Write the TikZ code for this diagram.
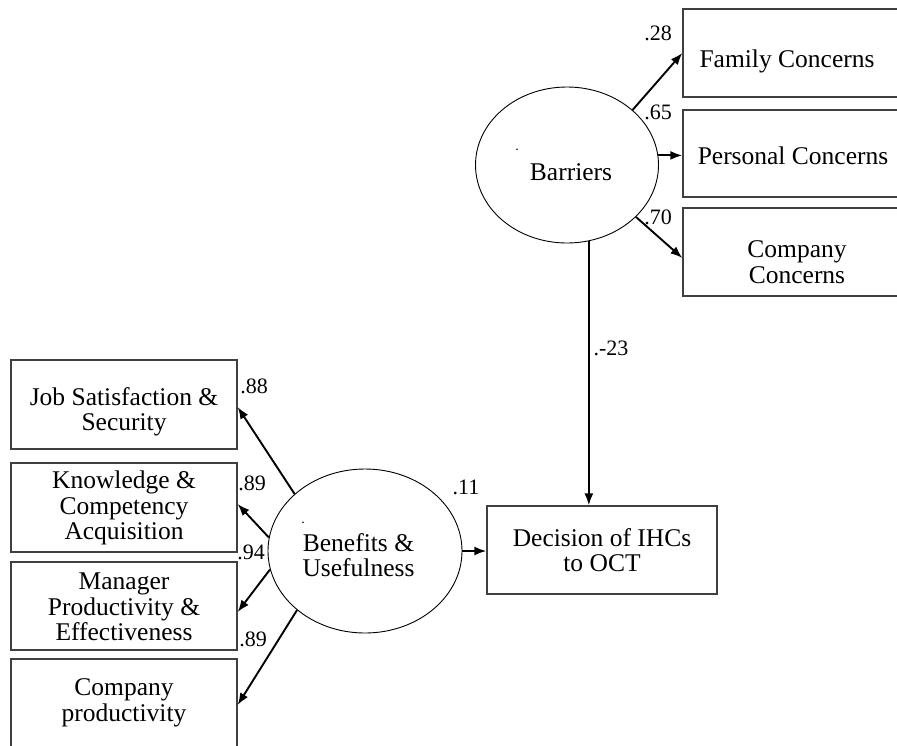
\documentclass[tikz,border=0pt]{standalone}
\usepackage{fontspec}
\setmainfont{Liberation Serif}
\usetikzlibrary{arrows.meta,shapes.geometric}
\begin{document}
\begin{tikzpicture}[x=1pt,y=-1pt,
 box/.style={draw=black!75,line width=1.3pt,inner sep=0pt,minimum height=88pt},
 lat/.style={draw,ellipse,line width=0.9pt,inner sep=0pt},
 txt/.style={font=\fontsize{25.5}{25.5}\selectfont,align=center,inner sep=0pt},
 coef/.style={font=\fontsize{22}{24}\selectfont,inner sep=0pt},
 pth/.style={line width=1.9pt,-{Latex[length=12pt,width=9pt]}},
 dotlbl/.style={font=\fontsize{14}{14}\selectfont,inner sep=0pt}
]
\useasboundingbox (0,0) rectangle (897,745);
\clip (0,0) rectangle (897,745);

% boxes
\node[box,minimum width=228pt] (fam) at (797,53) {};
\node[box,minimum width=228pt,minimum height=87pt] (per) at (797,153.5) {};
\node[box,minimum width=228pt] (com) at (797,252) {};
\node[box,minimum width=226pt,minimum height=89pt] (job) at (124,404.5) {};
\node[box,minimum width=226pt,minimum height=89pt] (kno) at (124,507.5) {};
\node[box,minimum width=226pt] (man) at (124,606) {};
\node[box,minimum width=226pt,minimum height=89pt] (cpr) at (124,703.5) {};
\node[box,minimum width=230pt] (dec) at (602,550) {};

% latent variables
\node[lat,minimum width=183pt,minimum height=156pt] (bar) at (567,165) {};
\node[lat,minimum width=194pt,minimum height=164pt] (ben) at (365,551) {};

% texts
\node[txt] (tfam) at (787,61) {Family Concerns};
\node[txt] (tper) at (793,156) {Personal Concerns};
\node[txt] (tcom) at (797,262) {Company\\Concerns};
\node[txt] (tjob) at (124,412) {Job Satisfaction \&\\Security};
\node[txt] (tkno) at (124,508) {Knowledge \&\\Competency\\Acquisition};
\node[txt] (tman) at (124,607) {Manager\\Productivity \&\\Effectiveness};
\node[txt] (tcpr) at (124,703) {Company\\productivity};
\node[txt] (tdec) at (602,550) {Decision of IHCs\\to OCT};
\node[txt] (tbar) at (571,172) {Barriers};
\node[txt] (tben) at (358.5,555) {Benefits \&\\Usefulness};
\node[dotlbl] (dbar) at (517,150) {.};
\node[dotlbl] (dben) at (303,523) {.};

% paths
\draw[pth] (bar.40) -- (fam.west);
\draw[pth] (bar.6) -- (bar.6 -| per.west);
\draw[pth] (bar.-37) -- ([yshift=-6pt]com.west);
\draw[pth] (bar.-74) -- (bar.-74 |- dec.north);
\draw[pth] (ben.east) -- (ben.east -| dec.west);
\draw[pth] (ben.141) -- ([yshift=-2.5pt]job.east);
\draw[pth] (ben.172) -- ([yshift=3.5pt]kno.east);
\draw[pth] (ben.191) -- ([yshift=-6pt]man.east);
\draw[pth] (ben.221) -- ([yshift=-1.5pt]cpr.east);

% coefficients
\node[coef] (c28) at (658,33) {.28};
\node[coef] (c65) at (658,112) {.65};
\node[coef] (c70) at (658,217) {.70};
\node[coef] (c23) at (611,348) {.-23};
\node[coef] (c88) at (254,386) {.88};
\node[coef] (c89a) at (252,483) {.89};
\node[coef] (c94) at (251,552) {.94};
\node[coef] (c89b) at (253,639) {.89};
\node[coef] (c11) at (466,487) {.11};
\end{tikzpicture}
\end{document}
